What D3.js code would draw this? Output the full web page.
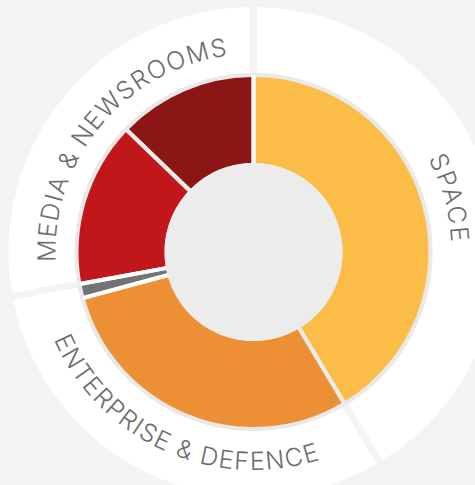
<!DOCTYPE html>
<html>
<head>
<meta charset="utf-8">
<script src="https://cdn.jsdelivr.net/npm/d3@7"></script>
<style>
  html, body { margin: 0; padding: 0; background: #f5f4f2; }
  svg { display: block; }
  .label { font-family: 'Inter', 'Liberation Sans', sans-serif; font-weight: 300; font-size: 25px; fill: #6d6d6d; }
</style>
</head>
<body>
<div id="chart"></div>
<script>
const segNames = ['Space', 'Enterprise & Defence', 'Other', 'Media', 'Newsrooms'];
const segGroups = ['SPACE', 'ENTERPRISE & DEFENCE', 'ENTERPRISE & DEFENCE', 'MEDIA & NEWSROOMS', 'MEDIA & NEWSROOMS'];
const segValues = [41.4, 29.4, 1.3, 15.1, 12.8];

// Outer ring categories
const groups = ['SPACE', 'ENTERPRISE & DEFENCE', 'MEDIA & NEWSROOMS'];

// Styles
const segColours = ['#fbbd47', '#ed9035', '#737373', '#c1161a', '#8c1515'];
const gapColours = ['#ffffff', '#ebebeb', '#ffffff', '#ffffff', '#ebebeb'];

const width = 475, height = 485;
const cx = 253.5, cy = 252;
const rHole = 89, rOuter = 175, rBorder = 179, rRing = 245;

const svg = d3.select('#chart').append('svg')
  .attr('width', width)
  .attr('height', height);

const defs = svg.append('defs');
const g = svg.append('g').attr('transform', `translate(${cx},${cy})`);

const data = segNames.map((name, i) => ({ name, group: segGroups[i], value: segValues[i], i }));
const pie = d3.pie().sort(null).value(d => d.value);
const arcsData = pie(data);

// group spans from the sector angles
const groupArcs = groups.map(name => {
  const parts = arcsData.filter(a => a.data.group === name);
  return {
    name,
    startAngle: d3.min(parts, a => a.startAngle),
    endAngle: d3.max(parts, a => a.endAngle)
  };
});

// outer white ring
const ringArc = d3.arc()
  .innerRadius(rBorder)
  .outerRadius(rRing)
  .padRadius(100)
  .padAngle(0.07);

g.selectAll('path.ring')
  .data(groupArcs)
  .join('path')
  .attr('class', 'ring')
  .attr('d', ringArc)
  .attr('fill', '#ffffff');

// light grey disc behind the donut (border + hole)
g.append('circle')
  .attr('r', rBorder)
  .attr('fill', '#e9e9e9');
g.append('circle')
  .attr('r', rOuter)
  .attr('fill', '#ebebeb');

// donut sectors
const segArc = d3.arc()
  .innerRadius(rHole)
  .outerRadius(rOuter)
  .padRadius(100)
  .padAngle(0.04);

g.selectAll('path.seg')
  .data(arcsData)
  .join('path')
  .attr('class', 'seg')
  .attr('d', segArc)
  .attr('fill', d => segColours[d.data.i]);

// separators at the start of each sector
g.selectAll('line.gap')
  .data(arcsData)
  .join('line')
  .attr('class', 'gap')
  .attr('x1', d => rHole * Math.sin(d.startAngle))
  .attr('y1', d => -rHole * Math.cos(d.startAngle))
  .attr('x2', d => (rOuter + 2) * Math.sin(d.startAngle))
  .attr('y2', d => -(rOuter + 2) * Math.cos(d.startAngle))
  .attr('stroke', d => gapColours[d.data.i])
  .attr('stroke-width', 4);

// centre hole
g.append('circle')
  .attr('r', rHole)
  .attr('fill', '#ececec');

// curved labels
const toSvg = a => a - Math.PI / 2;

groupArcs.forEach((d, i) => {
  const mid = (d.startAngle + d.endAngle) / 2;
  const span = Math.PI * 0.9;
  const p = d3.path();
  // bottom labels run counter-clockwise so they read upright
  const bottom = mid > Math.PI / 2 && mid < Math.PI * 1.5;
  if (bottom) {
    p.arc(0, 0, 218, toSvg(mid + span / 2), toSvg(mid - span / 2), true);
  } else {
    p.arc(0, 0, 198, toSvg(mid - span / 2), toSvg(mid + span / 2), false);
  }
  defs.append('path')
    .attr('id', 'lp' + i)
    .attr('d', p.toString());
});

const labelSpans = [87, 320, 295];

g.selectAll('text.label')
  .data(groupArcs)
  .join('text')
  .attr('class', 'label')
  .append('textPath')
  .attr('href', (d, i) => '#lp' + i)
  .attr('startOffset', '50%')
  .attr('text-anchor', 'middle')
  .attr('textLength', (d, i) => labelSpans[i])
  .attr('lengthAdjust', 'spacing')
  .text(d => d.name);
</script>
</body>
</html>
